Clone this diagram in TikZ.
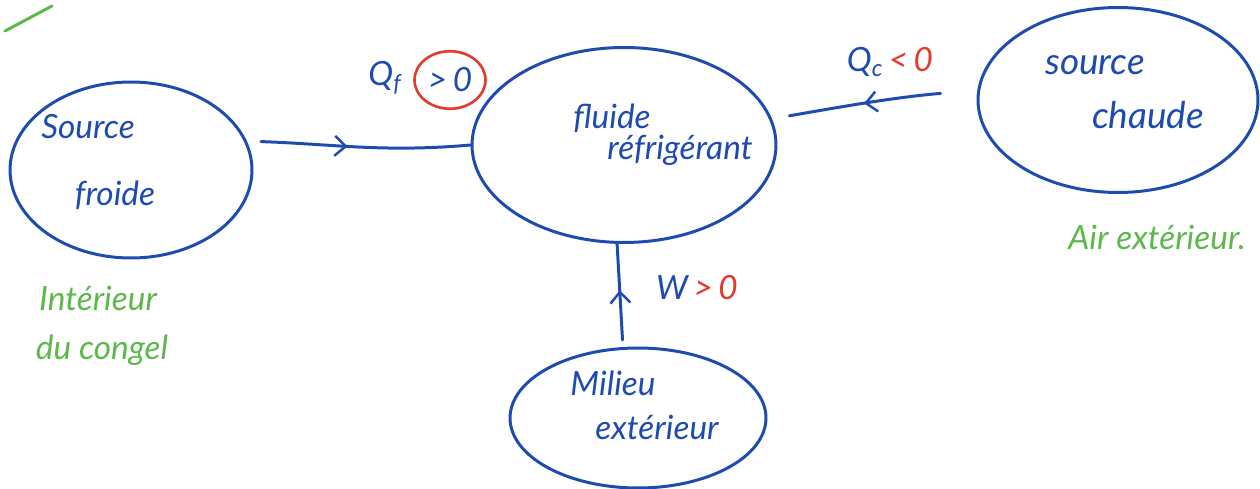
\documentclass[tikz,border=0pt]{standalone}
\usepackage{fontspec}
\setmainfont{Lato}
\usetikzlibrary{shapes.geometric,arrows.meta,decorations.markings}
\definecolor{ink}{HTML}{1D4BB0}
\definecolor{inkred}{HTML}{E43A2B}
\definecolor{inkgreen}{HTML}{5CB84A}
\begin{document}
\begin{tikzpicture}[x=0.02cm,y=-0.02cm,
  blob/.style={ellipse, draw=ink, line width=1.7pt, inner sep=0pt},
  hand/.style={font=\fontsize{19}{22}\selectfont\itshape, text=ink, inner sep=0pt},
  note/.style={font=\fontsize{19}{22}\selectfont\itshape, text=inkgreen, inner sep=0pt},
  flow/.style={draw=ink, line width=1.7pt, line cap=round, postaction={decorate},
    decoration={markings, mark=at position #1 with {\arrow{Straight Barb[length=2.2mm,width=4mm,line width=1.4pt]}}}},
  flow/.default=0.5]
\useasboundingbox (0,0) rectangle (1260,489);

% ellipses
\node[blob, minimum width=4.84cm, minimum height=3.52cm] (sf) at (131,170) {};
\node[blob, minimum width=6.08cm, minimum height=3.9cm] (fr) at (624,145) {};
\node[blob, minimum width=5.6cm, minimum height=3.7cm] (sc) at (1118,100) {};
\node[blob, minimum width=5.12cm, minimum height=2.8cm] (me) at (638,418) {};

% texts inside
\node[hand] (t1) at (88,127) {Source};
\node[hand] (t2) at (115,195) {froide};
\node[hand] (t3) at (612,118) {fluide};
\node[hand] (t4) at (680,150) {réfrigérant};
\node[hand, font=\fontsize{21}{24}\selectfont\itshape] (t5) at (1095,65) {source};
\node[hand, font=\fontsize{21}{24}\selectfont\itshape] (t6) at (1148,115) {chaude};
\node[hand] (t7) at (613,383) {Milieu};
\node[hand] (t8) at (657,427) {extérieur};

% green notes
\node[note] (n1) at (98,298) {Intérieur};
\node[note] (n2) at (102,350) {du congel};
\node[note] (n3) at (1157,237) {Air extérieur.};
\coordinate (ck1) at (5,31);
\coordinate (ck2) at (52,6);
\draw[inkgreen, line width=1.7pt, line cap=round] (ck1) -- (ck2);

% connectors
\draw[flow=0.45] (sf.14) [shorten <=8pt] to[out=-2,in=185] (fr.180);
\draw[flow=0.55] (sc.176) [shorten <=21pt, shorten >=10pt] to[out=185,in=10] (fr.10);
\draw[flow=0.55] (me.102) [shorten <=4pt] -- (fr.266);

% labels
\node[hand] (qf) at (385,78) {Q\textsubscript{f}};
\node[ellipse, draw=inkred, line width=1.5pt, minimum width=1.42cm, minimum height=1.15cm, inner sep=0pt, hand] (qfc) at (450,80) {>\,0};
\node[hand] (qc) at (890,62) {Q\textsubscript{c}\,\textcolor{inkred}{<\,0}};
\node[hand] (w) at (697,288) {W\,\textcolor{inkred}{>\,0}};
\end{tikzpicture}
\end{document}
